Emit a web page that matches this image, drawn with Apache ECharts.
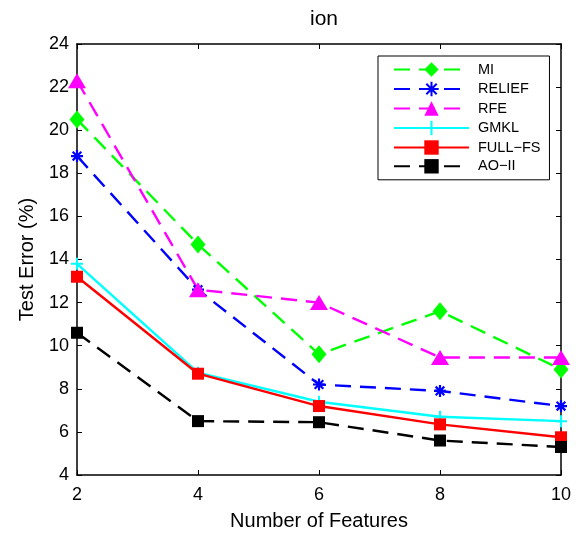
<!DOCTYPE html>
<html>
<head>
<meta charset="utf-8">
<script src="https://cdn.jsdelivr.net/npm/echarts@6/dist/echarts.min.js"></script>
<style>html,body{margin:0;padding:0;background:#fff;}#c{width:576px;height:536px;}</style>
</head>
<body>
<div id="c"></div>
<script>
const features = [2, 4, 6, 8, 10];
const seriesNames = ['MI', 'RELIEF', 'RFE', 'GMKL', 'FULL\u2212FS', 'AO\u2212II'];
const miValues = [20.5, 14.7, 9.6, 11.6, 8.9];
const reliefValues = [18.8, 12.6, 8.2, 7.9, 7.2];
const rfeValues = [22.3, 12.6, 12.0, 9.45, 9.45];
const gmklValues = [13.8, 8.75, 7.4, 6.7, 6.5];
const fullfsValues = [13.2, 8.7, 7.2, 6.35, 5.75];
const aoiiValues = [10.6, 6.5, 6.45, 5.6, 5.3];
const xTicks = [2, 4, 6, 8, 10];
const yTicks = [4, 6, 8, 10, 12, 14, 16, 18, 20, 22, 24];

const FONT = 'Liberation Sans, Arial, Helvetica, sans-serif';
const pairs = v => features.map((x, i) => [x, v[i]]);
const asterisk = 'path://M0,-5L0,5M-5,0L5,0M-3.6,-3.6L3.6,3.6M-3.6,3.6L3.6,-3.6';
const plus = 'path://M0,-5L0,5M-5,0L5,0';
const dash = [16, 9];

function mk(name, vals, color, type, symbol, size, extra) {
  return Object.assign({
    name: name, type: 'line', data: pairs(vals),
    symbol: symbol, symbolSize: size,
    lineStyle: { color: color, width: 2.4, type: type },
    itemStyle: { color: color, borderColor: color, borderWidth: 0 },
    emphasis: { disabled: true },
    animation: false
  }, extra || {});
}

const chart = echarts.init(document.getElementById('c'), null, { renderer: 'canvas' });
const baseAxis = {
  axisLine: { lineStyle: { color: '#000', width: 1.5 } },
  axisTick: { inside: true, length: 5, lineStyle: { color: '#000', width: 1 } },
  splitLine: { show: false }
};
chart.setOption({
  animation: false,
  title: {
    text: 'ion', left: 319, top: 4, textAlign: 'center',
    textStyle: { fontFamily: FONT, fontSize: 21, fontWeight: 'normal', color: '#000' }
  },
  grid: { left: 77, right: 15, top: 44, bottom: 59, containLabel: false },
  legend: {
    orient: 'vertical', left: 378, top: 56,
    padding: [6, 9, 6, 15],
    itemWidth: 75, itemHeight: 18, itemGap: 3.8,
    borderColor: '#000', borderWidth: 1, backgroundColor: '#fff',
    textStyle: { fontFamily: FONT, fontSize: 14.5, color: '#000', padding: [0, 0, 0, 4] },
    data: seriesNames
  },
  xAxis: [
    Object.assign({}, baseAxis, {
      type: 'value', min: 2, max: 10, interval: 2, position: 'bottom',
      name: 'Number of Features', nameLocation: 'middle', nameGap: 36,
      nameTextStyle: { fontFamily: FONT, fontSize: 20, color: '#000' },
      axisLabel: { fontFamily: FONT, fontSize: 18, color: '#000', margin: 11 }
    }),
    Object.assign({}, baseAxis, {
      type: 'value', min: 2, max: 10, interval: 2, position: 'top',
      axisLabel: { show: false }
    })
  ],
  yAxis: [
    Object.assign({}, baseAxis, {
      type: 'value', min: 4, max: 24, interval: 2, position: 'left',
      name: 'Test Error (%)', nameLocation: 'middle', nameGap: 40,
      nameTextStyle: { fontFamily: FONT, fontSize: 20, color: '#000' },
      axisLabel: { fontFamily: FONT, fontSize: 18, color: '#000', margin: 8 }
    }),
    Object.assign({}, baseAxis, {
      type: 'value', min: 4, max: 24, interval: 2, position: 'right',
      axisLabel: { show: false }
    })
  ],
  series: [
    mk(seriesNames[0], miValues, '#00ff00', dash, 'diamond', [15, 18]),
    mk(seriesNames[1], reliefValues, '#0000ff', dash, asterisk, 12,
       { itemStyle: { color: '#0000ff', borderColor: '#0000ff', borderWidth: 2.2 } }),
    mk(seriesNames[2], rfeValues, '#ff00ff', dash, 'triangle', [18, 15]),
    mk(seriesNames[3], gmklValues, '#00ffff', 'solid', plus, 12,
       { itemStyle: { color: '#00ffff', borderColor: '#00ffff', borderWidth: 2 } }),
    mk(seriesNames[4], fullfsValues, '#ff0000', 'solid', 'rect', 12),
    mk(seriesNames[5], aoiiValues, '#000000', dash, 'rect', 12)
  ]
});
</script>
</body>
</html>
